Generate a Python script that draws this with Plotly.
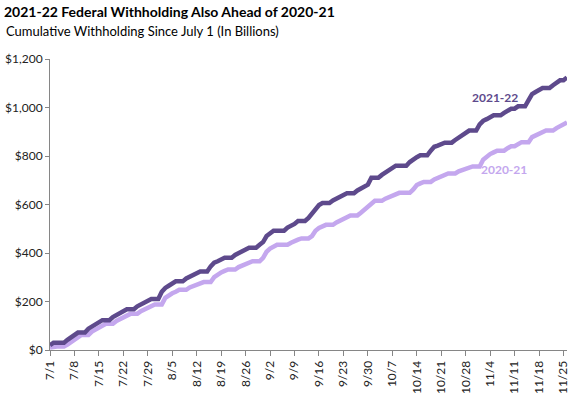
import datetime as dt
import plotly.graph_objects as go

start = dt.date(2021, 7, 1)

# Cumulative withholding since July 1 (billions of dollars), daily, 7/1 .. 11/26
fy2022 = [
    20, 30, 30, 30, 30, 42, 52,
    62, 72, 72, 72, 88, 97, 106,
    114, 123, 123, 123, 136, 145, 153,
    161, 168, 168, 168, 180, 188, 197,
    204, 210, 210, 210, 240, 256, 265,
    274, 283, 283, 283, 295, 303, 311,
    318, 324, 324, 324, 345, 360, 366,
    373, 380, 380, 380, 392, 400, 407,
    414, 422, 422, 422, 434, 445, 470,
    484, 492, 492, 492, 492, 505, 512,
    520, 532, 532, 532, 545, 562, 585,
    598, 606, 606, 606, 617, 624, 632,
    639, 646, 646, 646, 658, 666, 674,
    682, 710, 710, 710, 722, 732, 742,
    752, 760, 760, 760, 760, 775, 787,
    795, 803, 803, 803, 822, 838, 843,
    849, 855, 855, 855, 866, 875, 886,
    895, 905, 905, 905, 930, 945, 952,
    960, 968, 968, 968, 978, 987, 995,
    995, 1005, 1005, 1005, 1030, 1055, 1064,
    1072, 1080, 1080, 1080, 1092, 1101, 1112,
    1112, 1124,
]

fy2021 = [
    10, 14, 14, 14, 14, 22, 32,
    41, 52, 62, 62, 62, 76, 84,
    92, 100, 108, 108, 108, 120, 128,
    134, 141, 149, 149, 149, 160, 168,
    176, 182, 188, 188, 188, 215, 226,
    234, 240, 248, 248, 248, 258, 264,
    270, 275, 280, 280, 280, 300, 312,
    320, 326, 332, 332, 332, 342, 348,
    354, 360, 366, 366, 366, 380, 405,
    418, 425, 434, 434, 434, 434, 442,
    450, 455, 460, 460, 460, 470, 492,
    503, 510, 516, 516, 516, 526, 534,
    540, 547, 555, 555, 555, 566, 578,
    590, 608, 615, 615, 615, 624, 630,
    636, 642, 648, 648, 648, 648, 662,
    680, 687, 693, 693, 693, 703, 710,
    716, 722, 728, 728, 728, 737, 743,
    748, 752, 757, 757, 757, 785, 798,
    808, 815, 822, 822, 822, 832, 840,
    840, 850, 857, 857, 857, 878, 886,
    892, 898, 905, 905, 905, 915, 922,
    932, 938,
]

dates = [start + dt.timedelta(days=i) for i in range(len(fy2022))]

tick_labels = ["7/1", "7/8", "7/15", "7/22", "7/29", "8/5", "8/12", "8/19", "8/26",
               "9/2", "9/9", "9/16", "9/23", "9/30", "10/7", "10/14", "10/21",
               "10/28", "11/4", "11/11", "11/18", "11/25"]
tick_dates = [start + dt.timedelta(days=7 * i) for i in range(len(tick_labels))]

y_ticks = [0, 200, 400, 600, 800, 1000, 1200]
y_labels = ["$0", "$200", "$400", "$600", "$800", "$1,000", "$1,200"]

DARK = "#5E4A8C"
LIGHT = "#C4A7EE"
FONT = "Lato"

fig = go.Figure()
fig.add_trace(go.Scatter(x=dates, y=fy2021, mode="lines", name="2020-21",
                         line=dict(color=LIGHT, width=4.5), hoverinfo="skip"))
fig.add_trace(go.Scatter(x=dates, y=fy2022, mode="lines", name="2021-22",
                         line=dict(color=DARK, width=4.5), hoverinfo="skip"))

fig.update_layout(
    width=571, height=396,
    margin=dict(l=50, r=4, t=59, b=46),
    paper_bgcolor="white", plot_bgcolor="white",
    showlegend=False,
    font=dict(family=FONT, size=12, color="#222222"),
    title=dict(text="<b>2021-22 Federal Withholding Also Ahead of 2020-21</b>",
               xref="container", yref="container", x=0.007, y=1 - 12 / 396,
               xanchor="left", yanchor="middle",
               font=dict(family=FONT, size=14, color="#000000")),
)

fig.add_annotation(text="Cumulative Withholding Since July 1 (In Billions)",
                   xref="paper", yref="paper", x=-46 / 517, y=(350 - 31) / 291,
                   xanchor="left", yanchor="middle", showarrow=False,
                   font=dict(family=FONT, size=13, color="#000000"))
fig.add_annotation(text="<b>2021-22</b>", xref="paper", yref="paper",
                   x=(495 - 50) / 517, y=(350 - 97) / 291, showarrow=False,
                   xanchor="center", yanchor="middle",
                   font=dict(family=FONT, size=12, color=DARK))
fig.add_annotation(text="<b>2020-21</b>", xref="paper", yref="paper",
                   x=(504 - 50) / 517, y=(350 - 169) / 291, showarrow=False,
                   xanchor="center", yanchor="middle",
                   font=dict(family=FONT, size=12, color=LIGHT))

fig.update_xaxes(
    type="date", range=[dates[0], dates[-1]], automargin=False,
    tickmode="array", tickvals=tick_dates, ticktext=tick_labels,
    tickangle=-90, ticks="outside", ticklen=5, tickcolor="#868686",
    showline=True, linecolor="#868686", linewidth=1,
    showgrid=False, zeroline=False,
    tickfont=dict(family=FONT, size=12, color="#222222"),
)
fig.update_yaxes(
    range=[0, 1200], automargin=False,
    tickmode="array", tickvals=y_ticks, ticktext=y_labels,
    ticks="outside", ticklen=4, tickcolor="#868686",
    showline=True, linecolor="#868686", linewidth=1,
    showgrid=False, zeroline=False,
    tickfont=dict(family=FONT, size=12, color="#222222"),
)

fig.write_html("out.html",
               config={"displayModeBar": False, "staticPlot": True},
               post_script="document.body.style.margin='0';document.body.style.overflow='hidden';")
